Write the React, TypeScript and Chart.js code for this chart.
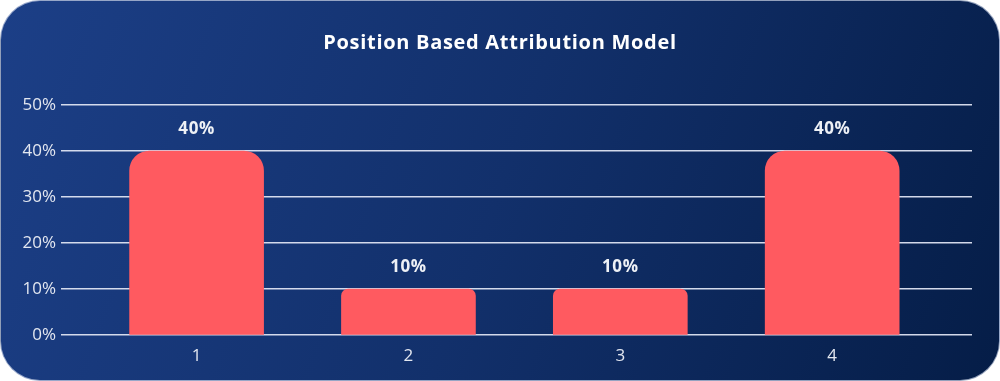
import React, { useEffect, useRef } from "react";
import { Chart, registerables } from "chart.js";

Chart.register(...registerables);

const chartTitle = "Position Based Attribution Model";
const categories = ["1", "2", "3", "4"];
const shares = [40, 10, 10, 40];
const yMax = 50;
const yStep = 10;

const FONT = "'Open Sans', Inter, 'Noto Sans', sans-serif";
const TEXT = "#e3e7f0";

const overlayPlugin = {
  id: "overlay",
  afterDatasetsDraw(chart: any) {
    const ctx = chart.ctx;
    ctx.save();
    ctx.fillStyle = "#ffffff";
    ctx.font = `bold 20px ${FONT}`;
    ctx.textAlign = "center";
    ctx.textBaseline = "middle";
    (ctx as any).letterSpacing = "0.7px";
    ctx.fillText(chartTitle, chart.width / 2, 43);
    const meta = chart.getDatasetMeta(0);
    ctx.font = `bold 17px ${FONT}`;
    (ctx as any).letterSpacing = "0.6px";
    ctx.fillStyle = "#eef1f6";
    meta.data.forEach((bar: any, i: number) => {
      ctx.fillText(shares[i] + "%", bar.x, bar.y - 22);
    });
    ctx.restore();
  },
};

export default function App() {
  const ref = useRef<HTMLCanvasElement | null>(null);
  useEffect(() => {
    if (!ref.current) return;
    const chart = new Chart(ref.current, {
      type: "bar",
      data: {
        datasets: [
          {
            data: categories.map((c, i) => ({ x: i + 1, y: shares[i] })),
            backgroundColor: "#ff5a60",
            borderWidth: 0,
            barThickness: 134,
            borderSkipped: "bottom",
            borderRadius: (c: any) => {
              const v = c.raw ? c.raw.y : 0;
              return v >= 30 ? 20 : 7;
            },
          } as any,
        ],
      },
      options: {
        animation: false,
        responsive: false,
        maintainAspectRatio: false,
        layout: { padding: { top: 105, right: 28, left: 0, bottom: 0 } },
        plugins: {
          legend: { display: false },
          title: { display: false },
          tooltip: { enabled: false },
        },
        scales: {
          x: {
            type: "linear",
            offset: false,
            min: 0.36,
            max: 4.66,
            afterBuildTicks: (s: any) => {
              s.ticks = categories.map((_, i) => ({ value: i + 1 }));
            },
            afterFit: (s: any) => {
              s.height = 46;
            },
            grid: { display: false, drawTicks: false },
            border: { display: false },
            ticks: {
              padding: 11,
              color: TEXT,
              font: { family: FONT, size: 17 },
              callback: (v: any) => categories[Number(v) - 1] ?? "",
            },
          },
          y: {
            min: 0,
            max: yMax,
            afterFit: (s: any) => {
              s.width = 61;
            },
            grid: {
              color: "rgba(222,228,242,0.95)",
              lineWidth: 1.4,
              drawTicks: false,
            },
            border: { display: false },
            ticks: {
              stepSize: yStep,
              padding: 5,
              color: TEXT,
              font: { family: FONT, size: 17 },
              callback: (v: any) => v + "%",
            },
          },
        },
      } as any,
      plugins: [overlayPlugin],
    });
    return () => chart.destroy();
  }, []);

  return (
    <div style={{ position: "fixed", left: 0, top: 0, width: 1000, height: 381 }}>
      <div
        style={{
          position: "absolute",
          inset: 0,
          boxSizing: "border-box",
          borderRadius: 40,
          border: "1px solid rgba(205,214,232,0.7)",
          background:
            "linear-gradient(110deg, #1c3f87 0%, #12306b 50%, #051d47 100%)",
        }}
      />
      <canvas
        ref={ref}
        width={1000}
        height={381}
        style={{ position: "absolute", left: 0, top: 0, width: 1000, height: 381 }}
      />
    </div>
  );
}
